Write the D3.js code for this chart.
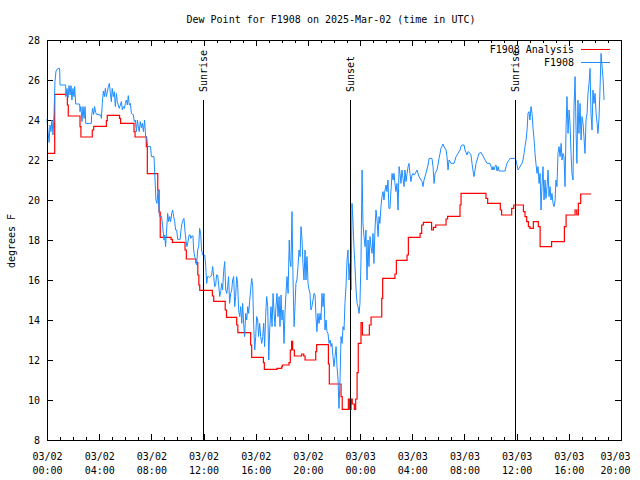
<!DOCTYPE html>
<html>
<head>
<meta charset="utf-8">
<script src="https://cdn.jsdelivr.net/npm/d3@7"></script>
<style>
body { margin: 0; background: #fff; }
text { font-family: "DejaVu Sans Mono", monospace; font-size: 10px; fill: #000; }
</style>
</head>
<body>
<div id="graph"></div>
<script>
// hours after 03/02 00:00 UTC, dew point in F
const stationObs = [
[0.00,24.05],[0.08,23.42],[0.16,22.88],[0.23,23.75],[0.30,23.42],[0.38,24.0],[0.46,23.25],[0.54,24.28],[0.61,25.92],[0.69,26.45],
[0.84,26.58],[0.97,26.58],[1.00,25.75],[1.43,25.75],[1.45,25.17],[1.53,25.58],[1.61,25.12],[1.69,25.72],[1.77,25.25],[1.84,25.72],
[1.91,25.0],[1.99,25.58],[2.07,25.17],[2.12,25.67],[2.20,24.8],[2.50,24.8],[2.53,24.42],[2.60,24.67],[2.68,23.92],[2.76,24.67],
[2.84,24.08],[2.92,24.67],[2.97,23.83],[3.40,23.83],[3.42,24.22],[3.50,24.58],[3.58,24.28],[3.65,24.67],[3.73,24.38],[3.80,24.28],
[4.12,24.25],[4.17,24.08],[4.24,24.83],[4.32,25.45],[4.40,25.17],[4.47,25.58],[4.55,25.17],[4.62,25.38],[4.70,25.67],[4.78,25.83],
[4.86,25.33],[4.93,24.92],[5.00,25.58],[5.08,25.17],[5.16,25.42],[5.24,24.67],[5.32,25.33],[5.39,24.92],[5.46,24.75],[5.54,24.58],
[5.62,24.75],[5.70,24.92],[5.78,24.5],[5.85,24.67],[5.93,24.58],[6.01,24.83],[6.08,25.0],[6.16,24.75],[6.23,25.22],[6.31,24.75],
[6.39,24.83],[6.47,24.33],[6.55,24.28],[6.61,24.28],[6.69,23.92],[6.77,24.0],[6.85,23.42],[6.93,24.0],[7.00,23.67],[7.07,23.42],
[7.15,23.92],[7.23,23.62],[7.31,23.83],[7.39,23.42],[7.48,24.0],[7.56,23.17],[7.64,23.17],[7.72,22.67],[7.94,22.67],[8.00,22.17],
[8.20,22.17],[8.28,21.0],[8.35,20.0],[8.43,19.83],[8.51,20.5],[8.59,19.42],[8.63,19.17],[8.79,19.17],[8.89,18.5],[8.97,18.0],
[9.02,18.25],[9.09,17.67],[9.17,18.5],[9.25,19.33],[9.33,18.92],[9.40,19.17],[9.48,18.92],[9.56,19.33],[9.63,19.5],[9.71,19.17],
[9.79,18.92],[9.86,18.5],[9.94,18.5],[10.02,18.03],[10.20,18.03],[10.27,18.5],[10.35,18.83],[10.43,19.0],[10.50,19.08],[10.58,18.42],
[10.65,18.0],[10.73,17.67],[10.81,17.92],[10.89,18.25],[10.97,18.25],[11.03,18.08],[11.11,18.2],[11.19,18.2],[11.24,17.5],[11.32,17.17],
[11.40,17.0],[11.47,16.75],[11.55,17.5],[11.63,17.67],[11.70,18.58],[11.78,18.33],[11.85,17.5],[11.93,17.25],[12.01,17.2],[12.09,17.25],
[12.17,16.67],[12.24,15.83],[12.31,16.17],[12.39,16.17],[12.47,16.13],[12.55,16.17],[12.62,16.25],[12.70,16.67],[12.78,16.17],[12.85,15.67],
[12.93,15.75],[13.00,16.25],[13.08,16.25],[13.16,15.75],[13.24,15.17],[13.32,15.42],[13.39,15.83],[13.46,15.5],[13.54,16.42],[13.62,16.92],
[13.70,15.5],[13.78,15.33],[13.85,15.67],[13.92,16.17],[14.00,14.83],[14.08,15.33],[14.16,15.5],[14.23,16.0],[14.31,16.17],[14.39,14.67],
[14.46,15.17],[14.54,16.17],[14.61,15.83],[14.69,14.5],[14.77,14.17],[14.85,14.67],[14.93,13.83],[15.00,14.83],[15.07,13.83],[15.15,13.17],
[15.23,14.33],[15.31,14.0],[15.39,14.67],[15.46,14.33],[15.53,14.92],[15.61,15.5],[15.69,16.08],[15.77,15.67],[15.84,13.83],[15.92,12.5],
[16.00,13.17],[16.07,14.17],[16.15,14.0],[16.22,13.17],[16.30,13.83],[16.38,13.17],[16.46,12.83],[16.54,13.17],[16.61,13.83],[16.68,12.67],
[16.76,14.17],[16.84,15.17],[16.92,14.67],[17.00,12.0],[17.07,13.5],[17.17,14.67],[17.25,13.67],[17.33,15.33],[17.41,14.33],[17.48,13.67],
[17.55,14.67],[17.63,15.33],[17.71,14.17],[17.79,15.17],[17.86,13.67],[17.94,15.25],[18.01,14.0],[18.09,14.5],[18.17,12.83],[18.24,14.33],
[18.32,15.33],[18.40,16.17],[18.48,15.33],[18.57,18.0],[18.62,17.0],[18.70,16.67],[18.78,19.42],[18.86,16.0],[18.94,13.67],[19.01,14.67],
[19.08,15.83],[19.16,16.0],[19.24,16.67],[19.32,17.5],[19.40,17.17],[19.47,18.67],[19.55,18.0],[19.62,16.83],[19.70,16.0],[19.78,17.5],
[19.85,16.0],[19.93,17.17],[20.01,15.83],[20.09,15.5],[20.16,15.33],[20.23,14.5],[20.31,14.67],[20.39,15.0],[20.47,15.33],[20.55,15.25],
[20.62,14.17],[20.69,13.42],[20.77,14.33],[20.85,13.83],[20.93,14.33],[21.00,14.0],[21.08,15.33],[21.16,14.67],[21.23,15.33],[21.31,13.5],
[21.39,14.0],[21.46,13.42],[21.54,13.33],[21.62,12.83],[21.70,13.0],[21.77,12.67],[21.84,12.83],[21.92,12.17],[22.00,11.67],[22.08,12.17],
[22.16,12.67],[22.23,11.67],[22.31,11.0],[22.38,9.58],[22.46,11.0],[22.54,13.17],[22.62,12.83],[22.69,13.67],[22.77,13.5],[22.84,14.83],
[22.92,15.67],[23.00,17.0],[23.07,17.5],[23.15,16.0],[23.23,16.83],[23.31,15.5],[23.38,19.83],[23.45,19.0],[23.53,17.67],[23.61,16.67],
[23.69,15.5],[23.77,14.83],[23.84,14.67],[23.92,14.33],[23.99,14.83],[24.07,17.0],[24.15,21.5],[24.22,18.83],[24.30,18.17],[24.38,17.67],
[24.45,18.5],[24.53,16.0],[24.61,18.0],[24.68,16.67],[24.76,18.17],[24.84,17.67],[24.92,17.33],[24.99,18.33],[25.06,16.83],[25.14,18.5],
[25.22,19.5],[25.30,19.0],[25.38,18.17],[25.45,19.17],[25.52,18.83],[25.60,19.67],[25.68,20.17],[25.76,20.42],[25.83,20.0],[25.91,20.5],
[25.99,20.75],[26.06,20.42],[26.14,21.0],[26.21,19.58],[26.29,19.58],[26.37,20.5],[26.45,21.33],[26.53,21.0],[26.60,21.33],[26.67,20.83],
[26.75,20.42],[26.83,20.83],[26.91,19.5],[26.99,21.67],[27.06,21.33],[27.13,20.83],[27.21,21.5],[27.29,21.08],[27.37,20.67],[27.44,21.5],
[27.52,20.92],[27.60,21.33],[27.68,21.67],[27.75,21.83],[27.82,21.33],[27.90,20.92],[27.98,21.25],[28.06,21.33],[28.14,21.25],[28.21,21.3],
[28.36,21.5],[28.52,21.17],[28.67,21.0],[28.75,20.92],[28.82,20.67],[28.90,21.0],[29.05,21.33],[29.21,21.75],[29.29,22.08],[29.51,22.08],
[29.59,21.67],[29.67,20.83],[29.75,21.33],[29.89,21.5],[29.97,21.75],[30.05,22.08],[30.13,22.33],[30.20,22.58],[30.36,22.8],[30.43,22.67],
[30.59,22.5],[30.66,22.17],[30.74,21.5],[30.82,22.0],[30.97,21.83],[31.20,21.83],[31.36,22.17],[31.50,22.33],[31.66,22.5],[31.74,22.7],
[31.81,22.75],[31.97,22.75],[32.04,22.5],[32.20,22.25],[32.27,22.42],[32.43,22.33],[32.50,22.25],[32.58,21.83],[32.65,21.5],[32.73,21.17],
[32.81,21.5],[32.89,21.83],[32.97,22.0],[33.11,22.33],[33.27,22.38],[33.42,22.2],[33.58,22.0],[33.73,21.83],[33.96,21.83],[34.04,21.67],
[34.12,21.5],[34.19,21.67],[34.26,21.5],[34.34,21.67],[34.42,21.75],[34.50,21.45],[34.58,21.67],[34.65,21.45],[35.11,21.45],[35.19,21.67],
[35.26,21.83],[35.34,21.92],[35.42,22.0],[35.49,22.08],[35.87,22.08],[35.95,22.0],[36.03,21.75],[36.11,21.5],[36.19,21.58],[36.33,21.75],
[36.41,21.83],[36.49,22.0],[36.57,22.33],[36.64,22.67],[36.72,23.0],[36.80,23.5],[36.87,24.33],[36.95,24.42],[37.02,24.0],[37.10,24.67],
[37.18,24.33],[37.26,23.58],[37.34,23.0],[37.41,22.33],[37.48,21.83],[37.56,21.33],[37.64,21.67],[37.72,20.83],[37.80,21.33],[37.87,19.5],
[37.94,20.67],[38.02,21.67],[38.10,20.0],[38.18,21.0],[38.25,20.08],[38.33,20.67],[38.41,21.5],[38.48,20.17],[38.56,20.67],[38.63,20.0],
[38.71,20.33],[38.79,19.83],[38.87,19.67],[38.95,20.0],[39.01,21.0],[39.09,20.67],[39.17,22.33],[39.25,22.67],[39.33,22.17],[39.41,22.83],
[39.48,22.0],[39.55,22.33],[39.63,22.17],[39.71,20.67],[39.79,23.67],[39.86,25.17],[39.94,23.33],[40.02,24.5],[40.09,23.83],[40.17,22.33],
[40.24,21.33],[40.32,21.0],[40.40,24.67],[40.48,26.17],[40.56,23.33],[40.62,21.83],[40.70,25.0],[40.78,23.33],[40.86,24.83],[40.94,23.0],
[41.01,24.17],[41.09,23.83],[41.16,23.17],[41.24,22.33],[41.32,24.0],[41.40,24.33],[41.47,25.33],[41.55,25.83],[41.63,26.58],[41.70,24.33],
[41.78,23.5],[41.85,25.5],[41.93,24.83],[42.01,25.33],[42.09,24.33],[42.17,23.83],[42.23,23.33],[42.31,24.0],[42.39,25.5],[42.47,27.33],
[42.55,26.67],[42.63,26.0],[42.70,25.0]
];

// hourly analysis, value holds until the next time
const analysisObs = [
[0.00,22.33],[0.59,25.28],[1.56,24.75],[1.63,24.2],[2.53,23.67],[2.60,23.15],[3.47,23.5],[3.58,23.68],[4.55,23.97],[4.62,24.23],
[5.56,24.08],[5.64,23.83],[6.67,23.42],[6.75,23.15],[7.61,22.67],[7.69,21.32],[8.49,20.5],[8.59,19.4],[8.68,18.13],[9.51,18.03],
[9.61,17.88],[10.58,17.5],[10.68,17.05],[11.41,16.87],[11.56,16.25],[11.64,15.75],[11.71,15.48],[12.68,15.2],[12.78,14.93],[13.66,14.5],
[13.76,14.13],[14.54,13.75],[14.63,13.37],[15.61,12.75],[15.69,12.13],[16.59,11.87],[16.66,11.53],[17.63,11.58],[17.99,11.67],[18.04,11.75],
[18.55,11.87],[18.65,12.5],[18.75,12.93],[18.83,12.5],[18.96,12.2],[19.52,12.3],[19.68,12.2],[19.78,12.0],[20.60,12.42],[20.67,12.77],
[21.57,11.8],[21.64,10.8],[22.54,10.17],[22.63,9.53],[23.10,10.05],[23.20,9.53],[23.31,10.05],[23.40,9.8],[23.56,9.53],[23.66,10.05],
[23.77,11.37],[23.86,12.83],[24.07,13.87],[24.18,13.25],[24.71,13.75],[24.84,14.15],[25.66,15.08],[25.73,16.08],[26.67,16.3],[26.78,16.98],
[27.60,17.25],[27.70,18.13],[28.60,18.33],[28.72,18.75],[28.85,18.88],[29.48,18.5],[29.62,18.63],[29.80,18.75],[30.59,19.05],[30.71,19.18],
[31.66,19.75],[31.74,20.33],[33.65,20.08],[33.78,19.83],[34.75,19.5],[34.85,19.25],[35.62,19.58],[35.78,19.75],[36.52,19.42],[36.64,19.17],
[36.77,18.92],[36.90,18.67],[37.02,18.58],[37.28,18.92],[37.66,18.67],[37.80,17.67],[38.68,17.92],[39.66,18.67],[39.79,19.25],[40.48,19.5],
[40.61,19.25],[40.73,19.83],[40.91,20.3],[41.71,20.3]
];

const sunHours = [11.94, 23.23, 35.88];
const sunNames = ["Sunrise", "Sunset", "Sunrise"];

const xTickHours = [0, 4, 8, 12, 16, 20, 24, 28, 32, 36, 40, 44];
const xTickDays  = ["03/02","03/02","03/02","03/02","03/02","03/02","03/03","03/03","03/03","03/03","03/03","03/03"];
const xTickTimes = ["00:00","04:00","08:00","12:00","16:00","20:00","00:00","04:00","08:00","12:00","16:00","20:00"];
const yTicks = [8, 10, 12, 14, 16, 18, 20, 22, 24, 26, 28];
const seriesNames = ["F1908 Analysis", "F1908"];
const seriesColors = ["#ff0000", "#1e8cff"];

const w = 640, h = 480;
const plotL = 47, plotR = 621, plotT = 40, plotB = 440;

const svg = d3.select("#graph").append("svg")
  .attr("width", w).attr("height", h);

const x = d3.scaleLinear().domain([0, 44]).range([plotL, plotR]);
const y = d3.scaleLinear().domain([8, 28]).range([plotB, plotT]);

svg.append("text")
  .attr("x", 331).attr("y", 23)
  .attr("text-anchor", "middle")
  .text("Dew Point for F1908 on 2025-Mar-02 (time in UTC)");

svg.append("text")
  .attr("transform", "translate(11,241) rotate(-90)")
  .attr("text-anchor", "middle")
  .attr("dy", "0.35em")
  .text("degrees F");

// minor hour ticks, bottom and top
const minorHours = d3.range(0, 45);
function tickAxis(axis, pos, size, vals) {
  const g = svg.append("g").attr("transform", pos)
    .call(axis.tickValues(vals).tickSize(size).tickFormat(""));
  g.select(".domain").remove();
  g.selectAll("line").attr("stroke", "#000").attr("shape-rendering", "crispEdges");
  return g;
}
tickAxis(d3.axisBottom(x), "translate(0," + plotB + ")", -3, minorHours);
tickAxis(d3.axisTop(x), "translate(0," + plotT + ")", -3, minorHours);
tickAxis(d3.axisTop(x), "translate(0," + plotT + ")", -6, xTickHours);
tickAxis(d3.axisRight(y), "translate(" + plotR + ",0)", -6, yTicks);

// bottom axis with two-line labels, kept inside the canvas like gnuplot
const xg = tickAxis(d3.axisBottom(x), "translate(0," + plotB + ")", -6, xTickHours);
xg.selectAll(".tick").each(function(d, i) {
  const t = d3.select(this).append("text")
    .attr("text-anchor", "middle").attr("fill", "#000");
  t.append("tspan").attr("x", 0).attr("y", 20).text(xTickDays[i]);
  t.append("tspan").attr("x", 0).attr("y", 34).text(xTickTimes[i]);
  const half = t.node().getBBox().width / 2;
  const over = x(d) + half - (w - 10);
  if (over > 0) t.selectAll("tspan").attr("x", -over);
});

const yg = tickAxis(d3.axisLeft(y), "translate(" + plotL + ",0)", -6, yTicks);
yg.selectAll(".tick").append("text")
  .attr("x", -7).attr("dy", "0.35em")
  .attr("text-anchor", "end").attr("fill", "#000")
  .text(d => d);

// data
const stepLine = d3.line().x(d => x(d[0])).y(d => y(d[1])).curve(d3.curveStepAfter);
const obsLine = d3.line().x(d => x(d[0])).y(d => y(d[1]));

svg.append("path").datum(analysisObs)
  .attr("d", stepLine)
  .attr("fill", "none").attr("stroke", seriesColors[0]).attr("stroke-width", 1.2);

svg.append("path").datum(stationObs)
  .attr("d", obsLine)
  .attr("fill", "none").attr("stroke", seriesColors[1]).attr("stroke-width", 1);

// sunrise / sunset markers
const sun = svg.selectAll(".sun").data(sunHours).enter().append("g").attr("class", "sun");
sun.append("line")
  .attr("x1", d => Math.round(x(d)) + 0.5).attr("x2", d => Math.round(x(d)) + 0.5)
  .attr("y1", y(25)).attr("y2", y(8))
  .attr("stroke", "#000").attr("stroke-width", 1);
sun.append("text")
  .attr("transform", d => "translate(" + (Math.round(x(d)) + 0.5) + "," + (y(25) - 8) + ") rotate(-90)")
  .attr("dy", "0.35em")
  .text((d, i) => sunNames[i]);

// legend
const leg = svg.append("g");
[0, 1].forEach(i => {
  const ly = 49 + i * 13;
  leg.append("text").attr("x", 574).attr("y", ly).attr("dy", "0.35em")
    .attr("text-anchor", "end").text(seriesNames[i]);
  leg.append("line").attr("x1", 581).attr("x2", 610)
    .attr("y1", ly + 0.5).attr("y2", ly + 0.5)
    .attr("stroke", seriesColors[i]).attr("stroke-width", 1);
});

// border
svg.append("rect")
  .attr("x", plotL + 0.5).attr("y", plotT + 0.5)
  .attr("width", plotR - plotL).attr("height", plotB - plotT)
  .attr("fill", "none").attr("stroke", "#000");
</script>
</body>
</html>
